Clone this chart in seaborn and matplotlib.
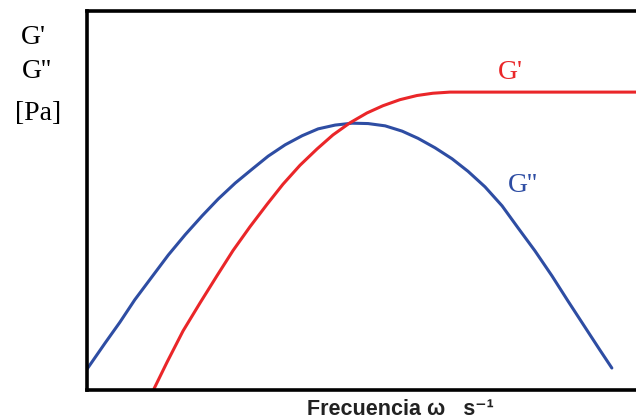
import numpy as np
import pandas as pd
import matplotlib
matplotlib.use("Agg")
import matplotlib.pyplot as plt
import seaborn as sns

# Data (x: frequency, arbitrary 0-100; y: modulus, arbitrary 0-100)
g2_x = [0.0, 3.3, 6.0, 8.7, 11.8, 14.8, 17.9, 21.0, 23.9, 27.0, 30.1, 33.0, 36.1, 39.2,
        42.1, 45.2, 48.3, 51.2, 54.3, 57.4, 60.3, 63.4, 66.5, 69.4, 72.5, 75.6, 78.5,
        81.6, 84.7, 87.6, 90.7, 93.4, 95.6]
g2_y = [5.5, 12.4, 17.9, 23.8, 29.8, 35.6, 41.0, 46.0, 50.4, 54.6, 58.3, 61.7, 64.7, 67.1,
        68.9, 69.9, 70.4, 70.3, 69.7, 68.3, 66.4, 63.9, 61.0, 57.7, 53.6, 48.6, 42.8,
        36.7, 30.1, 23.5, 16.6, 10.6, 5.8]
g1_x = [12.2, 14.6, 17.5, 20.6, 23.7, 26.6, 29.7, 32.8, 35.7, 38.8, 41.9, 44.8, 47.9,
        51.0, 53.9, 57.0, 60.1, 63.0, 66.1, 100.0]
g1_y = [0.3, 7.4, 15.6, 23.0, 30.2, 36.8, 43.1, 49.0, 54.3, 59.3, 63.6, 67.3, 70.5,
        73.1, 75.0, 76.6, 77.7, 78.3, 78.6, 78.6]

red = "#EA2629"
blue = "#2E4DA3"

sns.set_style("white")
plt.rcParams["font.family"] = ["Liberation Serif", "DejaVu Serif"]

fig = plt.figure(figsize=(6.36, 4.19), dpi=100)
ax = fig.add_axes([87/636, 29/419, 1 - 87/636, 379/419])

df2 = pd.DataFrame({"x": g2_x, "y": g2_y})
df1 = pd.DataFrame({"x": g1_x, "y": g1_y})
sns.lineplot(data=df2, x="x", y="y", ax=ax, color=blue, lw=2.2, sort=False)
sns.lineplot(data=df1, x="x", y="y", ax=ax, color=red, lw=2.2, sort=False)

ax.set_xlim(0, 100)
ax.set_ylim(0, 100)
ax.set_xticks([])
ax.set_yticks([])
ax.set_xlabel("")
ax.set_ylabel("")
for side in ["left", "top", "bottom"]:
    ax.spines[side].set_color("black")
    ax.spines[side].set_linewidth(2.6)
ax.spines["right"].set_visible(False)

ax.text(77.2, 83.9, "G'", color=red, fontsize=20, ha="center", va="center")
ax.text(79.4, 54.0, "G''", color=blue, fontsize=20, ha="center", va="center")

fig.text(33/636, 1 - 38/419, "G'", fontsize=20, ha="center", va="center", color="black")
fig.text(37/636, 1 - 72/419, "G''", fontsize=20, ha="center", va="center", color="black")
fig.text(38/636, 1 - 113/419, "[Pa]", fontsize=20, ha="center", va="center", color="black")

fig.text(400/636, 1 - 409/419, "Frecuencia ω   s⁻¹", fontsize=15.5, fontweight="bold",
         ha="center", va="center", color="#222222",
         family=["Liberation Sans", "DejaVu Sans"])

fig.savefig("out.png", dpi=100)
